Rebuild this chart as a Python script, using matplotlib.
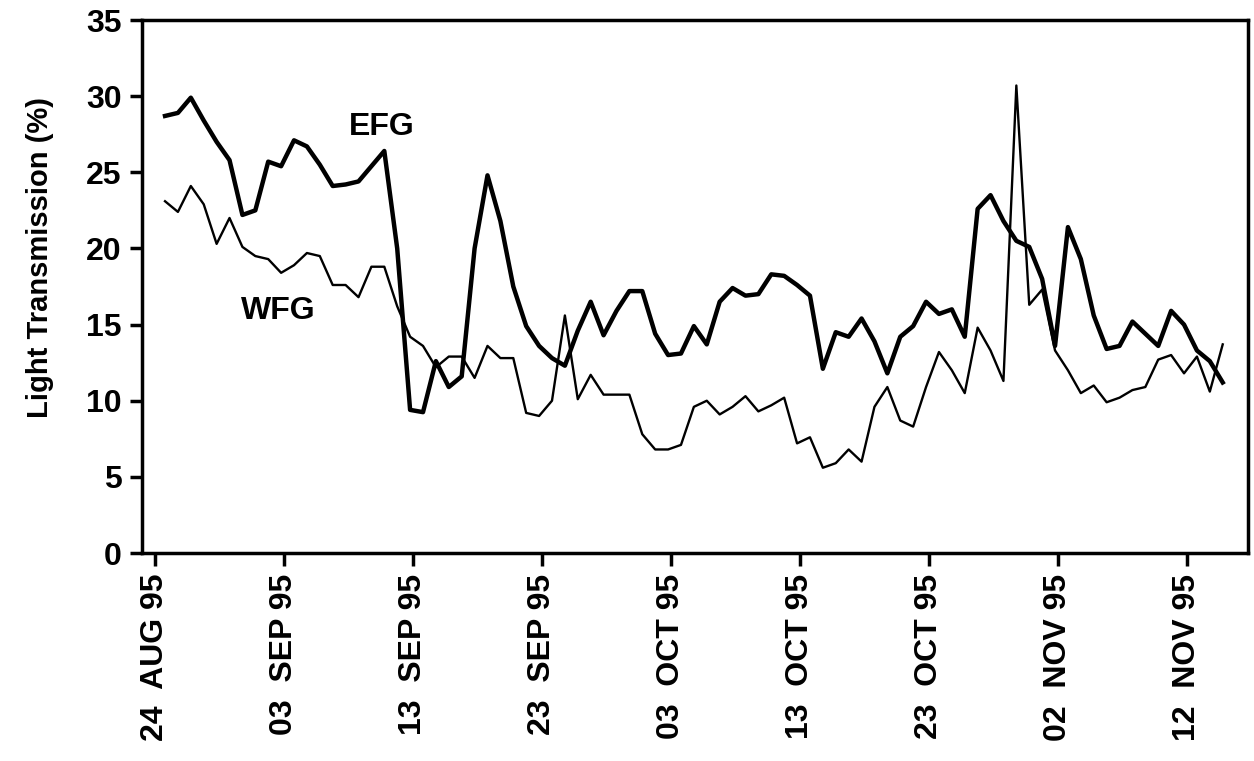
#!/usr/bin/env python
# coding: utf-8

import matplotlib

matplotlib.use("Agg")
import matplotlib.pyplot as plt
import pandas as pd

# Constants
FONT_FAMILY = ["Liberation Sans", "DejaVu Sans"]
TICK_SIZE = 23
LABEL_SIZE = 21
PLOT_PATH = "out.png"

# Daily readings, 25 AUG 95 .. 15 NOV 95 (values in %)
START_DATE = "1995-08-25"
EFG = [
    28.7, 28.9, 29.9, 28.4, 27.0, 25.8, 22.2, 22.5, 25.7, 25.4,
    27.1, 26.7, 25.5, 24.1, 24.2, 24.4, 25.4, 26.4, 20.0, 9.4,
    9.25, 12.6, 10.9, 11.6, 20.0, 24.8, 21.8, 17.5, 14.9, 13.6,
    12.8, 12.3, 14.6, 16.5, 14.3, 15.9, 17.2, 17.2, 14.4, 13.0,
    13.1, 14.9, 13.7, 16.5, 17.4, 16.9, 17.0, 18.3, 18.2, 17.6,
    16.9, 12.1, 14.5, 14.2, 15.4, 13.9, 11.8, 14.2, 14.9, 16.5,
    15.7, 16.0, 14.2, 22.6, 23.5, 21.8, 20.5, 20.1, 18.0, 13.6,
    21.4, 19.3, 15.6, 13.4, 13.6, 15.2, 14.4, 13.6, 15.9, 15.0,
    13.3, 12.6, 11.2,
]
WFG = [
    23.1, 22.4, 24.1, 22.9, 20.3, 22.0, 20.1, 19.5, 19.3, 18.4,
    18.9, 19.7, 19.5, 17.6, 17.6, 16.8, 18.8, 18.8, 16.2, 14.2,
    13.6, 12.2, 12.9, 12.9, 11.5, 13.6, 12.8, 12.8, 9.2, 9.0,
    10.0, 15.6, 10.1, 11.7, 10.4, 10.4, 10.4, 7.8, 6.8, 6.8,
    7.1, 9.6, 10.0, 9.1, 9.6, 10.3, 9.3, 9.7, 10.2, 7.2,
    7.6, 5.6, 5.9, 6.8, 6.0, 9.6, 10.9, 8.7, 8.3, 10.9,
    13.2, 12.0, 10.5, 14.8, 13.3, 11.3, 30.7, 16.3, 17.3, 13.3,
    12.0, 10.5, 11.0, 9.9, 10.2, 10.7, 10.9, 12.7, 13.0, 11.8,
    12.9, 10.6, 13.7,
]

TICK_DATES = [
    "1995-08-24", "1995-09-03", "1995-09-13", "1995-09-23", "1995-10-03",
    "1995-10-13", "1995-10-23", "1995-11-02", "1995-11-12",
]
TICK_LABELS = [
    "24  AUG 95", "03  SEP 95", "13  SEP 95", "23  SEP 95", "03  OCT 95",
    "13  OCT 95", "23  OCT 95", "02  NOV 95", "12  NOV 95",
]
Y_TICKS = [0, 5, 10, 15, 20, 25, 30, 35]


def plot_data() -> None:
    plt.rcParams["font.family"] = FONT_FAMILY
    plt.rcParams["font.weight"] = "bold"

    fig = plt.figure(figsize=(12.54, 7.61), dpi=100)
    ax = fig.add_axes([0.1136, 0.2733, 0.8816, 0.7004])

    # samples sit a little before midnight of each day
    dates = pd.date_range(START_DATE, periods=len(EFG), freq="D") - pd.Timedelta(hours=6)

    ax.plot(dates, WFG, color="black", linewidth=1.7)
    ax.plot(dates, EFG, color="black", linewidth=3.2)

    ax.text(pd.Timestamp("1995-09-10 14:00"), 28.0, "EFG",
            fontsize=23, fontweight="bold", ha="center", va="center")
    ax.text(pd.Timestamp("1995-09-02 12:00"), 15.9, "WFG",
            fontsize=23, fontweight="bold", ha="center", va="center")

    ax.set_xlim(pd.Timestamp("1995-08-23"), pd.Timestamp("1995-11-16 17:00"))
    ax.set_ylim(0, 35)
    ax.set_yticks(Y_TICKS)
    ax.set_yticklabels([str(v) for v in Y_TICKS], fontsize=TICK_SIZE, fontweight="bold")
    ax.set_xticks(pd.to_datetime(TICK_DATES))
    ax.set_xticklabels(TICK_LABELS, rotation=90, fontsize=TICK_SIZE, fontweight="bold")

    ax.set_ylabel("Light Transmission (%)", fontsize=LABEL_SIZE, fontweight="bold")
    ax.yaxis.set_label_coords(-0.08, 0.554)

    for spine in ax.spines.values():
        spine.set_linewidth(2.5)
    ax.tick_params(axis="both", direction="out", length=9, width=2.5, pad=6)

    fig.savefig(PLOT_PATH, dpi=100)


if __name__ == "__main__":
    plot_data()
